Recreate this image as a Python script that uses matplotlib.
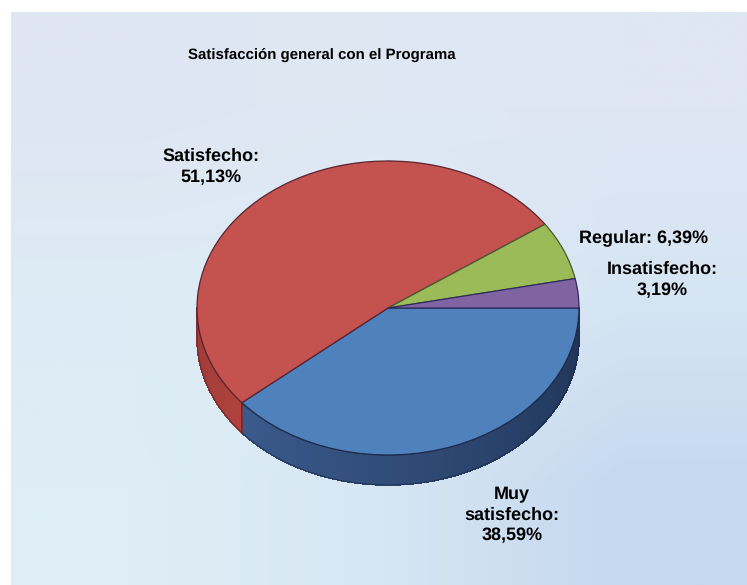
import numpy as np
import matplotlib
matplotlib.use("Agg")
import matplotlib.pyplot as plt
from matplotlib.colors import to_rgb

plt.rcParams["text.hinting"] = "none"
plt.rcParams["text.hinting_factor"] = 1

# Data
slice_names = ["Muy satisfecho", "Satisfecho", "Regular", "Insatisfecho"]
values = [38.59, 51.13, 6.39, 3.19]   # clockwise from east
top_colors = ["#4f81bd", "#c4524e", "#9bbb59", "#8064a2"]
wall_start = ["#1f3354", "#b0423d", "#7c9a45", "#64487f"]
wall_end = ["#3a5a8c", "#9c3a36", "#7c9a45", "#64487f"]
edge_colors = ["#1f2a4a", "#5a2430", "#4a5a30", "#2f2a60"]

title_text = "Satisfacción general con el Programa"
label_texts = [
    ("Satisfecho:\n51,13%", 211, 167),
    ("Regular: 6,39%", 643.5, 238),
    ("Insatisfecho:\n3,19%", 662.5, 280),
    ("Muy\nsatisfecho:\n38,59%", 512, 515),
]

W, H = 747, 585
dpi = 100
cx, cy, rx, ry, depth = 388.0, 308.0, 191.0, 147.0, 30.0

fig = plt.figure(figsize=(W / dpi, H / dpi), dpi=dpi, facecolor="white")

# Background panel
bg = fig.add_axes([11 / W, 0, 1 - 11 / W, 1 - 12 / H])
bg.axis("off")
grid = np.array([
    [to_rgb("#dfe6f3"), to_rgb("#dfe8f4"), to_rgb("#dfe6f4")],
    [to_rgb("#dcebf5"), to_rgb("#dcecf5"), to_rgb("#d6e5f3")],
    [to_rgb("#dfeef5"), to_rgb("#d6e6f3"), to_rgb("#c5d8ef")],
])
bg.imshow(grid, aspect="auto", interpolation="bilinear", extent=(0, 1, 0, 1), vmin=0, vmax=1)
bg.set_xlim(0, 1)
bg.set_ylim(0, 1)

# Pie axes: one data unit = pie radius
ax = fig.add_axes([0, 0, 1, 1])
ax.patch.set_alpha(0)
ax.axis("off")
d = depth / ry

fracs = np.array(values) / sum(values)
ends = np.cumsum(fracs) * 2 * np.pi
starts = np.r_[0, ends[:-1]]
# Side walls (visible front half only): angle measured clockwise from east
for s, e, c1, c2, ec in zip(starts, ends, wall_start, wall_end, edge_colors):
    a, b = s, min(e, np.pi)
    if a >= b:
        continue
    t = np.linspace(a, b, 81)
    xs, ys = np.cos(t), -np.sin(t)
    c1, c2 = np.array(to_rgb(c1)), np.array(to_rgb(c2))
    for i in range(80):
        f = i / 79
        ax.fill([xs[i], xs[i + 1], xs[i + 1], xs[i]],
                [ys[i], ys[i + 1], ys[i + 1] - d, ys[i] - d],
                color=tuple(c1 + (c2 - c1) * f), lw=0.5, antialiased=False, zorder=1)
    ax.plot(np.r_[xs, xs[::-1], xs[0]], np.r_[ys - d, ys[::-1], ys[0] - d],
            color=ec, lw=0.7, zorder=1.5, alpha=0.8)

# Top face
wedges, _ = ax.pie(values, startangle=0, counterclock=False, colors=top_colors,
                   center=(0, 0), radius=1,
                   wedgeprops=dict(linewidth=0.9, zorder=2))
for w, ec in zip(wedges, edge_colors):
    w.set_edgecolor(ec)
ax.set_aspect("auto")
ax.set_xlim((0 - cx) / rx, (W - cx) / rx)
ax.set_ylim((cy - H) / ry, cy / ry)

# Text
def px(x, y):
    return x / W, 1 - y / H

fig.text(*px(321.5, 54.5), title_text, ha="center", va="center", fontsize=11.1,
         fontweight="bold", family="Liberation Sans", color="black")
for txt, x, y in label_texts:
    fig.text(*px(x, y), txt, ha="center", va="center", fontsize=12.9,
             fontweight="bold", family="Liberation Sans", color="black", linespacing=1.3)

fig.savefig("out.png", dpi=dpi, facecolor="white")
